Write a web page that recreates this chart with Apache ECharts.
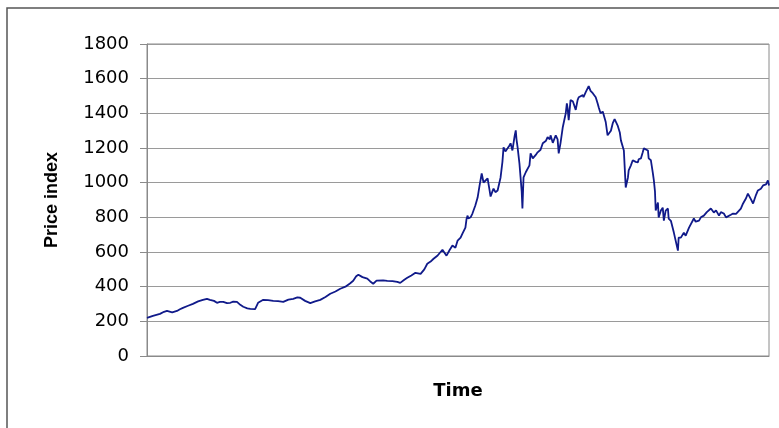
<!DOCTYPE html>
<html>
<head>
<meta charset="utf-8">
<script src="https://cdn.jsdelivr.net/npm/echarts@6/dist/echarts.min.js"></script>
<style>html,body{margin:0;padding:0;background:#fff}#c{width:779px;height:428px}</style>
</head>
<body>
<div id="c"></div>
<script>
// time in months from start of series
var months = [0,1.6,3.5,4.6,5.4,6.8,8.1,8.9,9.7,11.1,12.4,13.8,15.1,16.2,17.0,18.1,18.9,19.7,20.6,21.6,22.5,23.3,24.3,25.2,26.0,27.1,27.9,29.2,30.0,31.4,32.7,34.1,35.4,36.8,38.2,39.5,40.6,41.4,42.7,44.1,45.4,46.8,48.2,49.5,50.9,52.2,53.6,54.9,55.7,56.5,57.1,58.2,59.5,60.3,61.1,62.0,62.5,63.8,64.9,66.3,67.6,68.4,69.5,70.3,71.4,72.5,73.9,74.9,75.7,76.6,77.4,78.5,79.8,80.9,81.7,82.5,83.3,83.9,84.7,85.2,86.0,86.3,86.6,86.8,87.4,87.9,88.7,89.3,89.8,90.4,90.9,91.4,92.0,92.5,92.8,93.3,93.6,94.1,94.7,95.5,96.0,96.3,96.8,97.4,97.9,98.2,98.7,99.3,99.6,99.8,100.1,100.6,100.9,101.2,101.4,101.7,102.3,102.8,103.3,103.6,104.2,104.4,105.0,105.5,106.3,106.9,107.7,108.2,108.8,109.0,109.6,109.8,110.4,110.9,111.2,111.7,112.3,112.8,113.1,113.4,113.6,113.9,114.4,115.0,115.2,115.8,116.3,116.6,117.1,117.7,117.9,118.5,119.0,119.3,119.8,120.4,120.9,121.2,121.7,122.0,122.5,123.1,123.4,123.9,124.4,124.7,125.3,125.8,126.3,126.6,127.1,127.7,128.0,128.8,129.0,129.3,129.9,130.1,130.7,131.2,132.0,132.6,132.8,133.4,133.9,134.2,134.7,135.3,135.5,136.1,136.6,136.9,137.2,137.4,138.0,138.2,138.8,139.3,139.6,140.1,140.7,140.9,141.5,142.0,142.3,142.8,143.4,143.6,144.2,145.0,145.5,146.4,146.9,147.7,148.2,149.1,149.6,150.4,151.2,152.3,153.1,153.7,154.5,155.0,155.8,156.4,156.9,157.7,158.3,159.1,159.6,160.4,161.0,161.8,162.3,163.1,163.7,164.5,165.0,165.8,166.4,167.2,167.7,168.0];
var priceIndex = [220,232,243,255,260,252,260,270,278,290,301,315,324,330,324,318,307,312,312,305,307,314,312,295,284,275,272,270,307,324,322,318,316,312,325,330,338,336,318,305,315,324,340,359,372,388,400,420,434,460,469,455,446,430,417,435,440,436,434,432,428,422,440,451,465,480,474,500,532,545,561,580,613,579,610,637,625,666,683,706,741,790,810,793,800,822,870,914,980,1053,1001,1010,1024,960,920,950,966,945,955,1030,1120,1204,1180,1198,1215,1227,1186,1270,1302,1250,1204,1110,1030,950,851,1030,1060,1071,1100,1169,1140,1129,1160,1175,1190,1227,1240,1262,1250,1273,1230,1227,1273,1250,1169,1230,1320,1370,1400,1458,1430,1360,1476,1470,1458,1420,1476,1493,1490,1505,1493,1522,1530,1557,1530,1516,1505,1493,1458,1435,1400,1410,1406,1350,1273,1262,1300,1343,1366,1360,1331,1290,1244,1186,1100,972,1030,1071,1100,1129,1120,1117,1135,1140,1175,1198,1190,1186,1140,1129,1060,1013,950,839,885,799,839,856,781,839,851,793,780,770,712,706,608,683,683,712,694,741,741,793,775,781,800,810,830,851,828,840,810,830,822,800,793,815,822,820,828,850,880,910,937,905,880,930,955,965,984,990,1013,984];
var yTicks = [0,200,400,600,800,1000,1200,1400,1600,1800];

var pts = months.map(function(m,i){return [m, priceIndex[i]];});
var chart = echarts.init(document.getElementById('c'), null, {renderer:'canvas'});
chart.setOption({
  animation:false,
  backgroundColor:'#fff',
  graphic:[{type:'rect', shape:{x:7,y:8,width:820,height:480}, style:{fill:'none', stroke:'#555', lineWidth:1.5}, silent:true}],
  grid:{left:147, right:10, top:44, bottom:72, show:true, borderColor:'#8a8a8a', borderWidth:1},
  xAxis:{type:'value', min:0, max:168, name:'Time', nameLocation:'middle', nameGap:26,
    nameTextStyle:{fontFamily:'DejaVu Sans', fontWeight:'bold', fontSize:18, color:'#000'},
    axisLine:{show:true, lineStyle:{color:'#8a8a8a'}}, axisTick:{show:false}, axisLabel:{show:false}, splitLine:{show:false}},
  yAxis:{type:'value', min:yTicks[0], max:yTicks[yTicks.length-1], interval:200, name:'Price index', nameLocation:'middle', nameGap:86,
    nameTextStyle:{fontFamily:'Liberation Sans', fontWeight:'bold', fontSize:18, color:'#000'},
    axisLine:{show:true, lineStyle:{color:'#8a8a8a'}}, axisTick:{show:true, length:7, lineStyle:{color:'#8a8a8a'}},
    axisLabel:{margin:18, fontFamily:'DejaVu Sans', fontSize:18, color:'#000', formatter:function(v){return String(v);}},
    splitLine:{show:true, lineStyle:{color:'#9a9a9a', width:1}}},
  series:[{type:'line', data:pts, showSymbol:false, symbol:'none', lineStyle:{color:'#101a8a', width:1.8}}]
});
</script>
</body>
</html>
